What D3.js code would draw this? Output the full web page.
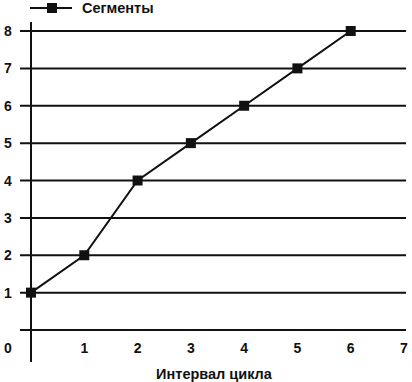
<!DOCTYPE html>
<html><head><meta charset="utf-8">
<script src="https://cdn.jsdelivr.net/npm/d3@7"></script>
<style>body{margin:0;background:#fff}svg{display:block}text{font-family:"Liberation Sans",Arial,sans-serif;font-weight:bold;fill:#111}</style>
</head><body>
<script>
const xValues = [0, 1, 2, 3, 4, 5, 6];
const segments = [1, 2, 4, 5, 6, 7, 8];
const xTicks = [1, 2, 3, 4, 5, 6, 7];
const yTicks = [1, 2, 3, 4, 5, 6, 7, 8];
const gridValues = [0, 1, 2, 3, 4, 5, 6, 7, 8];
const seriesName = "Сегменты";
const xTitle = "Интервал цикла";

const W = 412, H = 382;
const svg = d3.select("body").append("svg").attr("width", W).attr("height", H);
const x = d3.scaleLinear().domain([0, 7]).range([31, 404]);
const y = d3.scaleLinear().domain([0, 8]).range([330, 31]);
const ink = "#111";

// grid lines
svg.append("g").selectAll("line").data(gridValues).join("line")
  .attr("x1", 20).attr("x2", 406)
  .attr("y1", d => y(d)).attr("y2", d => y(d))
  .attr("stroke", ink).attr("stroke-width", 2);

// vertical axis
svg.append("line").attr("x1", x(0)).attr("x2", x(0)).attr("y1", 22).attr("y2", 362)
  .attr("stroke", ink).attr("stroke-width", 2);

// y labels
svg.append("g").selectAll("text").data(yTicks).join("text")
  .attr("x", 8).attr("y", d => y(d)).attr("dy", "0.36em")
  .attr("text-anchor", "middle").attr("font-size", 14).text(d => d);
svg.append("text").attr("x", 8).attr("y", 348).attr("dy", "0.36em")
  .attr("text-anchor", "middle").attr("font-size", 14).text("0");

// x labels
svg.append("g").selectAll("text").data(xTicks).join("text")
  .attr("x", d => x(d)).attr("y", 348).attr("dy", "0.36em")
  .attr("text-anchor", "middle").attr("font-size", 14).text(d => d);

// x title
svg.append("text").attr("x", 214).attr("y", 374).attr("dy", "0.36em")
  .attr("text-anchor", "middle").attr("font-size", 14.5).text(xTitle);

// series line
const pts = xValues.map((v, i) => [v, segments[i]]);
svg.append("path").datum(pts)
  .attr("d", d3.line().x(d => x(d[0])).y(d => y(d[1])))
  .attr("fill", "none").attr("stroke", ink).attr("stroke-width", 2);
svg.append("g").selectAll("rect").data(pts).join("rect")
  .attr("x", d => x(d[0]) - 5).attr("y", d => y(d[1]) - 5)
  .attr("width", 10).attr("height", 10).attr("fill", ink);

// legend
svg.append("line").attr("x1", 30).attr("x2", 72).attr("y1", 8).attr("y2", 8)
  .attr("stroke", ink).attr("stroke-width", 2);
svg.append("rect").attr("x", 47).attr("y", 3).attr("width", 10).attr("height", 10).attr("fill", ink);
svg.append("text").attr("x", 82).attr("y", 8).attr("dy", "0.36em")
  .attr("font-size", 14.5).text(seriesName);
</script>
</body></html>
